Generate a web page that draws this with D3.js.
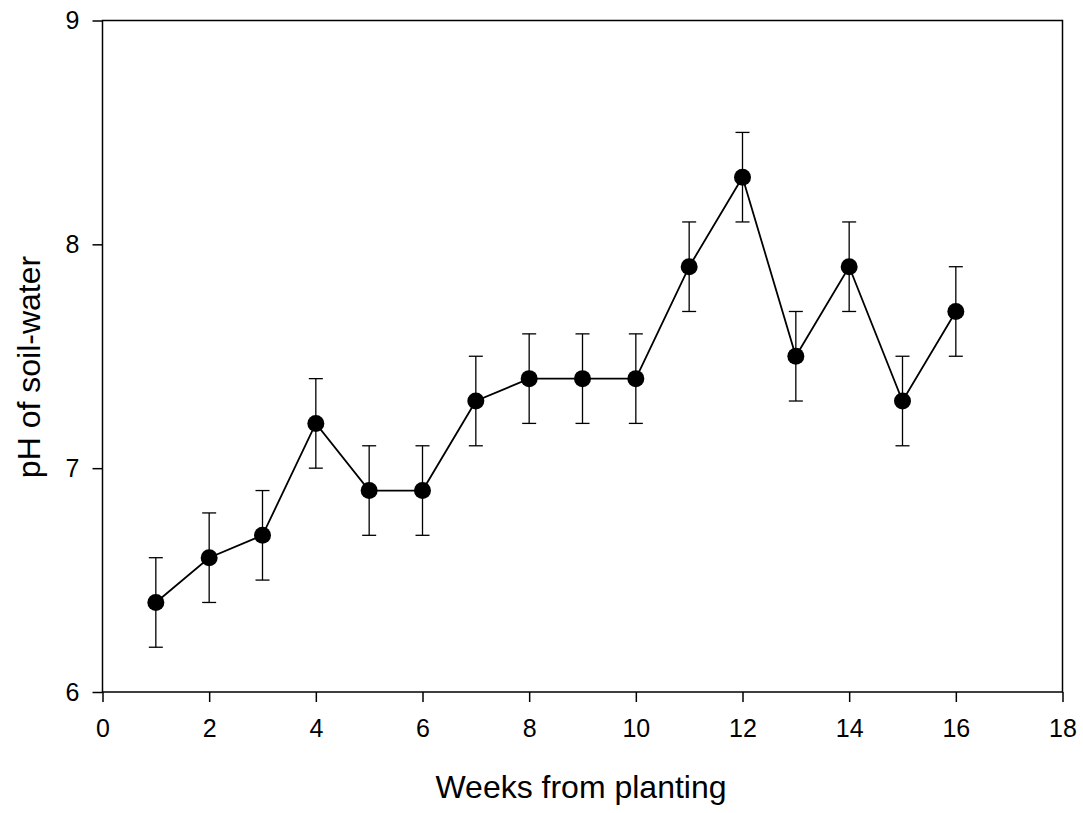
<!DOCTYPE html>
<html>
<head>
<meta charset="utf-8">
<script src="https://cdn.jsdelivr.net/npm/d3@7"></script>
<style>
  html, body { margin: 0; padding: 0; background: #fff; }
  svg { display: block; font-family: "Liberation Sans", Arial, sans-serif; }
</style>
</head>
<body>
<svg id="chart" width="1083" height="813"></svg>
<script>
// Soil-water pH by week after planting, mean ± error
const weeks   = [1, 2, 3, 4, 5, 6, 7, 8, 9, 10, 11, 12, 13, 14, 15, 16];
const phMean  = [6.4, 6.6, 6.7, 7.2, 6.9, 6.9, 7.3, 7.4, 7.4, 7.4, 7.9, 8.3, 7.5, 7.9, 7.3, 7.7];
const phError = [0.2, 0.2, 0.2, 0.2, 0.2, 0.2, 0.2, 0.2, 0.2, 0.2, 0.2, 0.2, 0.2, 0.2, 0.2, 0.2];
const xTicks  = [0, 2, 4, 6, 8, 10, 12, 14, 16, 18];
const yTicks  = [6, 7, 8, 9];

const svg = d3.select("#chart");
const plotL = 102.5, plotR = 1062.5, plotT = 20.5, plotB = 692;

const x = d3.scaleLinear().domain([0, 18]).range([plotL, plotR]);
const y = d3.scaleLinear().domain([6, 9]).range([plotB, plotT]);

const data = weeks.map((w, i) => ({ w, m: phMean[i], e: phError[i] }));

// frame
svg.append("rect")
  .attr("x", plotL).attr("y", plotT)
  .attr("width", plotR - plotL).attr("height", plotB - plotT)
  .attr("fill", "none").attr("stroke", "#000").attr("stroke-width", 1.5);

// axes
const xAxis = svg.append("g")
  .attr("transform", `translate(0,${plotB})`)
  .call(d3.axisBottom(x).tickValues(xTicks).tickSize(10).tickPadding(17).tickFormat(d3.format("d")));
const yAxis = svg.append("g")
  .attr("transform", `translate(${plotL},0)`)
  .call(d3.axisLeft(y).tickValues(yTicks).tickSize(10).tickPadding(13).tickFormat(d3.format("d")));

[xAxis, yAxis].forEach(g => {
  g.attr("font-size", null).attr("font-family", null);
  g.select(".domain").remove();
  g.selectAll(".tick line").attr("stroke", "#000").attr("stroke-width", 1.5);
  g.selectAll(".tick text").attr("fill", "#000").style("font-size", "25px");
});

// error bars
const cap = 7;
const eb = svg.append("g").attr("stroke", "#000").attr("stroke-width", 1.3);
data.forEach(d => {
  const cx = x(d.w);
  eb.append("line").attr("x1", cx).attr("x2", cx).attr("y1", y(d.m - d.e)).attr("y2", y(d.m + d.e));
  eb.append("line").attr("x1", cx - cap).attr("x2", cx + cap).attr("y1", y(d.m + d.e)).attr("y2", y(d.m + d.e));
  eb.append("line").attr("x1", cx - cap).attr("x2", cx + cap).attr("y1", y(d.m - d.e)).attr("y2", y(d.m - d.e));
});

// connecting line
svg.append("path")
  .datum(data)
  .attr("fill", "none").attr("stroke", "#000").attr("stroke-width", 1.8)
  .attr("d", d3.line().x(d => x(d.w)).y(d => y(d.m)));

// markers
svg.append("g").selectAll("circle")
  .data(data).join("circle")
  .attr("cx", d => x(d.w)).attr("cy", d => y(d.m)).attr("r", 8.5)
  .attr("fill", "#000");

// axis titles
svg.append("text")
  .attr("x", 581).attr("y", 798)
  .attr("text-anchor", "middle").style("font-size", "32px")
  .text("Weeks from planting");
svg.append("text")
  .attr("transform", "translate(40,367) rotate(-90)")
  .attr("text-anchor", "middle").style("font-size", "32px")
  .text("pH of soil-water");
</script>
</body>
</html>
